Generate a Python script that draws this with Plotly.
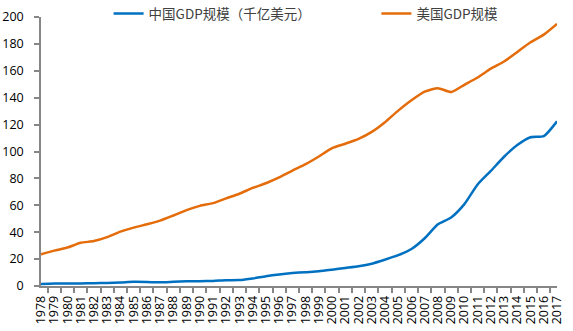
import plotly.graph_objects as go

# GDP, hundreds of billions of US dollars
years = [str(y) for y in range(1978, 2018)]
china_gdp = [1.5, 1.8, 1.9, 1.95, 2.05, 2.3, 2.6, 3.1, 3.0, 2.7,
             3.1, 3.5, 3.6, 3.8, 4.3, 4.4, 5.6, 7.3, 8.6, 9.6,
             10.3, 10.9, 12.1, 13.4, 14.7, 16.6, 19.6, 22.9, 27.5, 35.5,
             45.9, 51.0, 60.9, 75.5, 85.6, 96.1, 104.8, 110.6, 111.4, 122.4]
us_gdp = [23.5, 26.3, 28.6, 32.1, 33.4, 36.3, 40.4, 43.4, 45.9, 48.6,
          52.4, 56.4, 59.6, 61.6, 65.2, 68.6, 72.9, 76.4, 80.7, 85.8,
          90.6, 96.3, 102.5, 105.8, 109.4, 114.6, 121.8, 130.4, 138.1, 144.5,
          147.1, 144.2, 149.6, 155.0, 161.6, 166.9, 174.0, 181.2, 186.9, 194.9]
yticks = list(range(0, 201, 20))

font_family = "Noto Sans CJK SC, Noto Sans, sans-serif"
num_font = "Open Sans, Noto Sans, sans-serif"

fig = go.Figure()
fig.add_trace(go.Scatter(
    x=years, y=china_gdp, mode="lines", name="中国GDP规模（千亿美元）",
    line=dict(color="#0070C0", width=2.5, shape="spline", smoothing=0.6),
    legend="legend",
))
fig.add_trace(go.Scatter(
    x=years, y=us_gdp, mode="lines", name="美国GDP规模",
    line=dict(color="#E46C0A", width=2.5, shape="spline", smoothing=0.6),
    legend="legend2",
))

legend_style = dict(
    orientation="h", yanchor="middle", y=1.012, xanchor="left",
    font=dict(family=font_family, size=13.5, color="#404040"),
    bgcolor="rgba(0,0,0,0)", itemwidth=30, tracegroupgap=0,
)

fig.update_layout(
    width=573, height=331,
    margin=dict(l=41, r=16, t=17, b=45, autoexpand=False),
    paper_bgcolor="white", plot_bgcolor="white",
    font=dict(family=font_family, color="#000000"),
    showlegend=True,
    legend=dict(x=0.131, **legend_style),
    legend2=dict(x=0.65, **legend_style),
    xaxis=dict(
        type="category", showgrid=False, showline=True, linecolor="#868686",
        linewidth=1.5, ticks="outside", tickson="boundaries", ticklen=5,
        tickcolor="#868686", tickwidth=1.5, tickangle=-90,
        tickmode="linear", tick0=0, dtick=1,
        tickfont=dict(family=num_font, size=12.5, color="#000000"), zeroline=False,
        automargin=False, ticklabelstandoff=3,
    ),
    yaxis=dict(
        range=[0, 200], tickvals=yticks, showgrid=False, showline=True,
        linecolor="#868686", linewidth=1.5, ticks="outside", ticklen=5,
        tickcolor="#868686", tickwidth=1.5, zeroline=False,
        tickfont=dict(family=num_font, size=12.5, color="#000000"),
        automargin=False, ticklabelstandoff=8,
    ),
)

fig.write_html("out.html")
